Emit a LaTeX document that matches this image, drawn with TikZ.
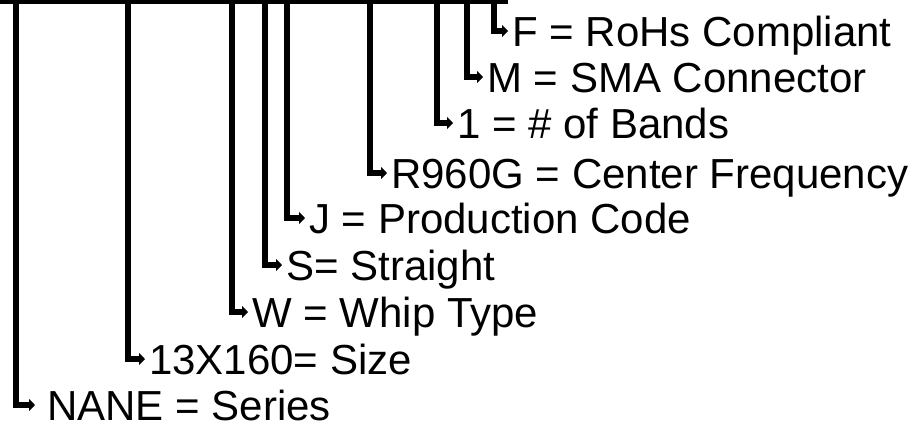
\documentclass[tikz,border=0pt]{standalone}
\usepackage{fontspec}
\setmainfont{Liberation Sans}
\usetikzlibrary{arrows.meta}

\begin{document}
\begin{tikzpicture}
      [x = 1pt, y = -1pt,
      bar/.style = {line width = 3.5pt},
      lead/.style = {
         line width = 5.5pt,
         line join = miter,
         -{Triangle[length = 6pt, width = 12pt]}
      },
      part/.style = {
         anchor = west,
         inner xsep = 4pt,
         inner ysep = 0pt,
         text height = 30pt,
         text depth = 0pt,
         font = \fontsize{42pt}{46pt}\selectfont
      }]

      \useasboundingbox (0, 0) rectangle (909, 424);

      % top bar
      \coordinate (barleft) at (0, 1.75);
      \coordinate (barright) at (508, 1.75);
      \draw[bar] (barleft) -- (barright);

      % drop points on the bar
      \coordinate (dnane) at (16, 0);
      \coordinate (dsize) at (128, 0);
      \coordinate (dwhip) at (232, 0);
      \coordinate (dstraight) at (265, 0);
      \coordinate (dcode) at (287, 0);
      \coordinate (dfreq) at (370, 0);
      \coordinate (dbands) at (437, 0);
      \coordinate (dconn) at (467, 0);
      \coordinate (drohs) at (494, 0);

      % fields
      \node[part] (nane) at (43, 405) {NANE = Series};
      \draw[lead, shorten >= 8pt] (dnane) |- (nane.west);

      \node[part] (size) at (145, 359) {13X160= Size};
      \draw[lead] (dsize) |- (size.west);

      \node[part] (whip) at (248, 312) {W = Whip Type};
      \draw[lead] (dwhip) |- (whip.west);

      \node[part] (straight) at (282, 265) {S= Straight};
      \draw[lead] (dstraight) |- (straight.west);

      \node[part] (code) at (305, 218) {J = Production Code};
      \draw[lead] (dcode) |- (code.west);

      \node[part] (freq) at (387, 173) {R960G = Center Frequency};
      \draw[lead] (dfreq) |- (freq.west);

      \node[part] (bands) at (453, 123) {1 = \# of Bands};
      \draw[lead] (dbands) |- (bands.west);

      \node[part] (conn) at (483, 77) {M = SMA Connector};
      \draw[lead] (dconn) |- (conn.west);

      \node[part] (rohs) at (508, 31) {F = RoHs Compliant};
      \draw[lead] (drohs) |- (rohs.west);

   \end{tikzpicture}
\end{document}
